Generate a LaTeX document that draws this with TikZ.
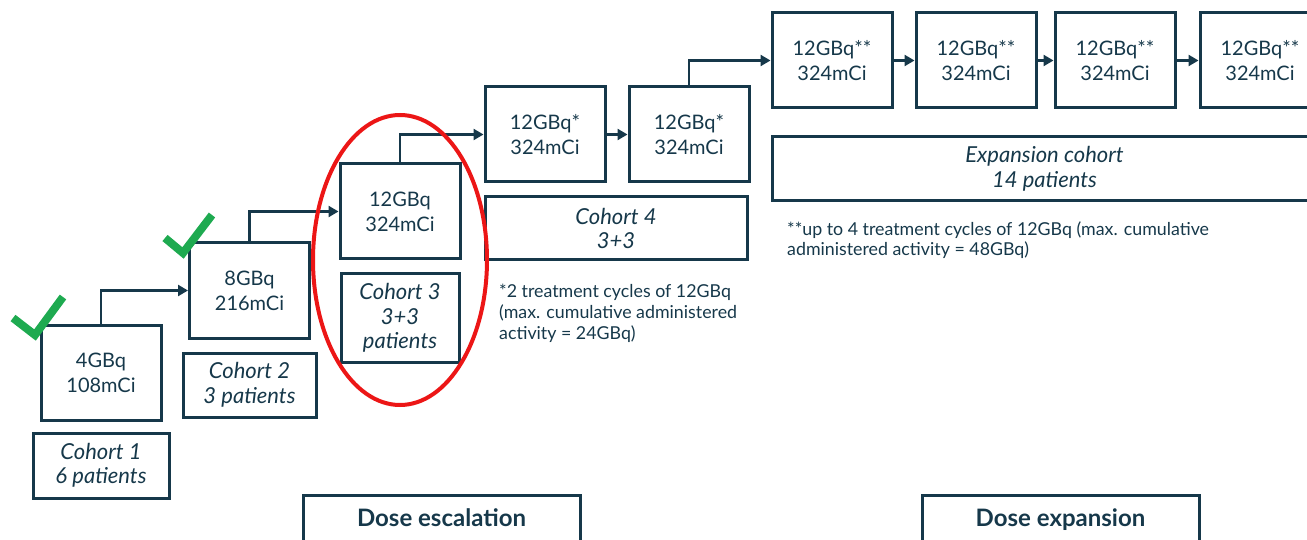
\documentclass[tikz,border=0pt]{standalone}
\usepackage{fontspec}
\setmainfont{Lato}
\usetikzlibrary{arrows.meta,positioning}
\definecolor{navy}{RGB}{22,56,74}
\definecolor{tickgreen}{RGB}{30,170,80}
\definecolor{ringred}{RGB}{236,22,22}
\pgfmathsetmacro{\dosewid}{120}
\pgfmathsetmacro{\dosehgt}{95}
\tikzset{
  dose/.style={draw=navy, line width=3pt, minimum width=\dosewid pt,
    minimum height=\dosehgt pt, inner sep=0pt, align=center, text=navy,
    font=\fontsize{20}{25}\selectfont},
  cohort/.style={draw=navy, line width=3pt, inner sep=0pt, align=center,
    text=navy, font=\fontsize{22}{24.5}\selectfont\itshape},
  phase/.style={draw=navy, line width=3pt, anchor=north, minimum width=277pt,
    inner xsep=0pt, inner ysep=8pt, text height=23pt, text depth=40pt,
    text=navy, font=\fontsize{24}{28}\selectfont\bfseries},
  note/.style={anchor=north west, align=left, inner sep=0pt, text=navy,
    font=\fontsize{17.8}{20.8}\selectfont},
  flow/.style={draw=navy, line width=2.5pt, -{Triangle[length=10pt,width=11pt]}},
  tick/.style={draw=tickgreen, line width=8pt},
}

\begin{document}
\begin{tikzpicture}[x=1pt, y=-1pt]
    \useasboundingbox (0,0) rectangle (1307,540);
    \clip (0,0) rectangle (1307,540);
    % dose escalation
    \node[dose] (dose1) at (101,372.5) {4GBq\\108mCi};
    \node[dose] (dose2) at (249.5,290.5) {8GBq\\216mCi};
    \node[dose] (dose3) at (400,211.5) {12GBq\\324mCi};
    \node[dose] (dose4) at (545,134.5) {12GBq*\\324mCi};
    \node[dose, right=21pt of dose4] (dose5) {12GBq*\\324mCi};
    % dose expansion
    \node[dose] (dose6) at (832,60.5) {12GBq**\\324mCi};
    \node[dose, right=21pt of dose6] (dose7) {12GBq**\\324mCi};
    \node[dose, right=16pt of dose7] (dose8) {12GBq**\\324mCi};
    \node[dose, right=22pt of dose8] (dose9) {12GBq**\\324mCi};
    % cohorts
    \node[cohort, below=10pt of dose1, minimum width=136pt, minimum height=65pt] (cohort1) {Cohort 1\\6 patients};
    \node[cohort, below=12pt of dose2, minimum width=133pt, minimum height=64pt] (cohort2) {Cohort 2\\3 patients};
    \node[cohort, below=12pt of dose3, minimum width=118pt, minimum height=88pt] (cohort3) {Cohort 3\\3+3\\patients};
    \node[cohort, minimum width=262pt, minimum height=63pt] (cohort4) at (616,228.5) {Cohort 4\\3+3};
    \node[cohort, minimum width=545pt, minimum height=64pt] (expcohort) at (1044.5,169) {Expansion cohort\\14 patients};
    % footnotes
    \node[note] (note1) at (499,284) {*2 treatment cycles of 12GBq\\(max. cumulative administered\\activity = 24GBq)};
    \node[note] (note2) at (787,221) {**up to 4 treatment cycles of 12GBq (max. cumulative\\administered activity = 48GBq)};
    % phases
    \node[phase] (escal) at (441.5,494) {Dose escalation};
    \node[phase] (expan) at (1060.5,494) {Dose expansion};
    % arrows
    \draw[flow] (dose1.north) |- (dose2);
    \draw[flow] (dose2.north) |- (dose3);
    \draw[flow] (dose3.north) |- (dose4);
    \draw[flow] (dose4) -- (dose5);
    \draw[flow] (dose5.north) |- (dose6);
    \draw[flow] (dose6) -- (dose7);
    \draw[flow] (dose7) -- (dose8);
    \draw[flow] (dose8) -- (dose9);
    % ticks and ring
    \draw[tick] (13,318) -- (35,335) -- (63,297);
    \draw[tick] (165,238) -- (183,253) -- (212,215);
    \draw[ringred, line width=4pt] (400,260) ellipse [x radius=87, y radius=145];
\end{tikzpicture}
\end{document}
